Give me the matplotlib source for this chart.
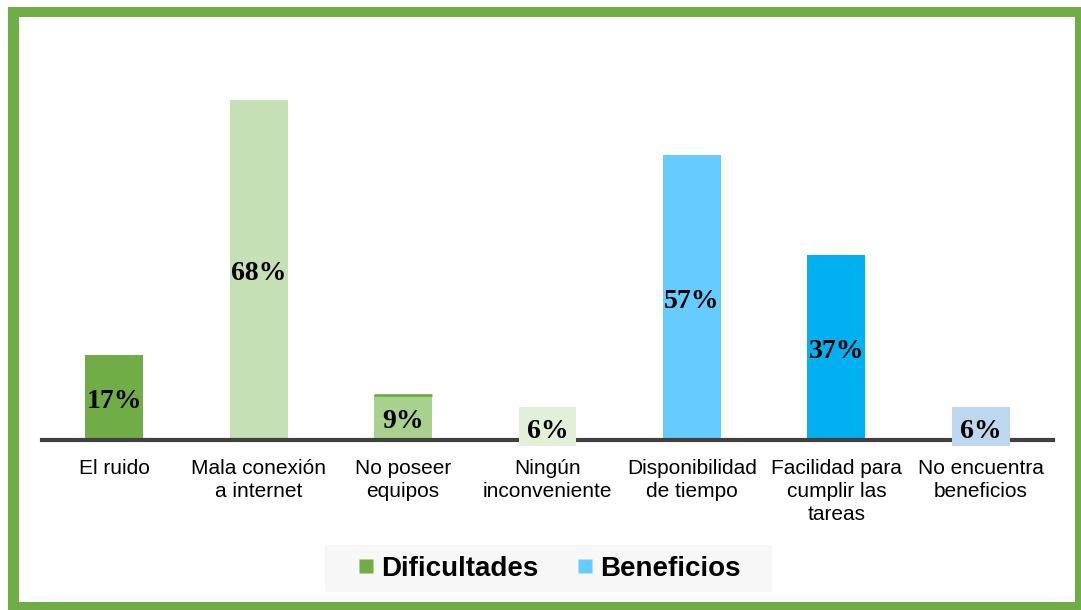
import matplotlib.pyplot as plt
from matplotlib.patches import Rectangle
from matplotlib.lines import Line2D

categories = ['El ruido', 'Mala conexión\na internet', 'No poseer\nequipos',
              'Ningún\ninconveniente', 'Disponibilidad\nde tiempo',
              'Facilidad para\ncumplir las\ntareas', 'No encuentra\nbeneficios']
values = [17, 68, 9, 6, 57, 37, 6]
labels = ['17%', '68%', '9%', '6%', '57%', '37%', '6%']
colors = ['#70AD47', '#C5E0B4', '#A9D18E', '#E2F0D9', '#66CCFF', '#00B0F0', '#BDD7EE']
boxed = [False, False, False, True, False, False, True]
legend_names = ['Dificultades', 'Beneficios']
legend_colors = ['#70AD47', '#66CCFF']

W, H = 1081, 610
fig = plt.figure(figsize=(W / 100, H / 100), dpi=100)
ax = fig.add_axes([42 / W, 170 / H, 1011 / W, 400 / H])

x = list(range(len(categories)))
bars = ax.bar(x, values, width=0.4, color=colors, edgecolor='none', zorder=2)
# darker top edge on "No poseer equipos"
b = bars[2]
ax.hlines(values[2], b.get_x(), b.get_x() + b.get_width(), color='#70AD47', lw=2, zorder=3)

for i, v in enumerate(values):
  b = bars[i]
  if boxed[i]:
    # label box with the bar colour, running a little below the axis line
    ax.add_patch(Rectangle((b.get_x(), -1.2), b.get_width(), v + 1.8,
                           fc=colors[i], ec='none', zorder=5, clip_on=False))
    ax.text(i, 1.8, labels[i], ha='center', va='center', fontsize=20,
            fontweight='bold', family='Liberation Serif', zorder=6)
  else:
    ax.text(i, v / 2 - 0.8, labels[i], ha='center', va='center', fontsize=20,
            fontweight='bold', family='Liberation Serif', zorder=6)

ax.set_xlim(-0.5, 6.5)
ax.set_ylim(0, 80)
for s in ['top', 'right', 'left']:
  ax.spines[s].set_visible(False)
ax.spines['bottom'].set_color('#404040')
ax.spines['bottom'].set_linewidth(3)
ax.spines['bottom'].set_zorder(4)
ax.set_yticks([])
ax.set_xticks(x)
ax.set_xticklabels(categories, fontsize=15, family='Liberation Sans', color='black',
                   linespacing=1.25)
ax.tick_params(axis='x', length=0, pad=14)

# legend background box
fig.add_artist(Rectangle((325 / W, 1 - 592 / H), 447 / W, 47 / H,
                         transform=fig.transFigure, fc='#F7F7F7', ec='none'))
handles = [Line2D([], [], marker='s', linestyle='none', markersize=10,
                  markerfacecolor=c, markeredgecolor='none') for c in legend_colors]
leg = fig.legend(handles, legend_names, loc='center', bbox_to_anchor=(549 / W, 41.5 / H),
                 ncol=2, frameon=False, handlelength=0.6, handletextpad=0.23,
                 columnspacing=1.4, borderpad=0.2,
                 prop={'family': 'Liberation Sans', 'weight': 'bold', 'size': 20})

# green frame around the chart
green = '#70AD47'
for (x0, y0, w, h) in [(8, 7, W - 8, 10), (8, 7, 11, H - 7), (1075, 7, 6, H - 7), (8, 602, W - 8, 8)]:
  fig.add_artist(Rectangle((x0 / W, 1 - (y0 + h) / H), w / W, h / H,
                           transform=fig.transFigure, fc=green, ec='none'))

fig.savefig('out.png', dpi=100)
